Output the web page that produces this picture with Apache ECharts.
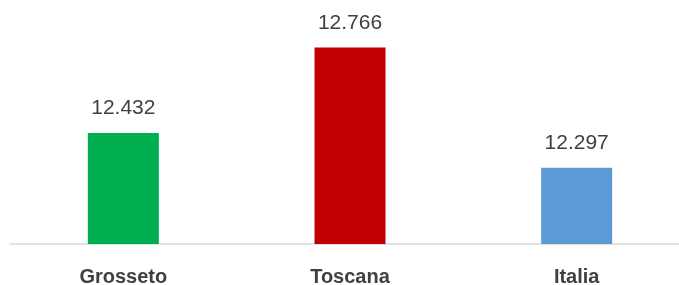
<!DOCTYPE html>
<html>
<head>
<meta charset="utf-8">
<script src="https://cdn.jsdelivr.net/npm/echarts@6/dist/echarts.min.js"></script>
<style>html,body{margin:0;padding:0;background:#fff}#c{width:679px;height:285px}</style>
</head>
<body>
<div id="c"></div>
<script>
const categories = ['Grosseto', 'Toscana', 'Italia'];
const values = [12.432, 12.766, 12.297];
const barColors = ['#00b050', '#c00000', '#5b9bd5'];

const chart = echarts.init(document.getElementById('c'), null, {renderer: 'canvas'});
chart.setOption({
  animation: false,
  grid: {left: 10, width: 680, top: 13, bottom: 41, containLabel: false, outerBoundsMode: 'none'},
  xAxis: {
    type: 'category',
    data: categories,
    axisLine: {lineStyle: {color: '#d9d9d9', width: 1.5}},
    axisTick: {show: false},
    axisLabel: {
      color: '#404040', fontFamily: 'Liberation Sans', fontWeight: 'bold', fontSize: 20, margin: 23
    }
  },
  yAxis: {
    type: 'value', min: 12, max: 12.9, show: false, splitLine: {show: false}
  },
  series: [{
    type: 'bar',
    barWidth: 71,
    data: values.map((v, i) => ({value: v, itemStyle: {color: barColors[i]}})),
    label: {
      show: true, position: 'top', distance: 14,
      color: '#404040', fontFamily: 'Liberation Sans', fontSize: 21,
      formatter: p => p.value.toFixed(3)
    }
  }]
});
</script>
</body>
</html>
